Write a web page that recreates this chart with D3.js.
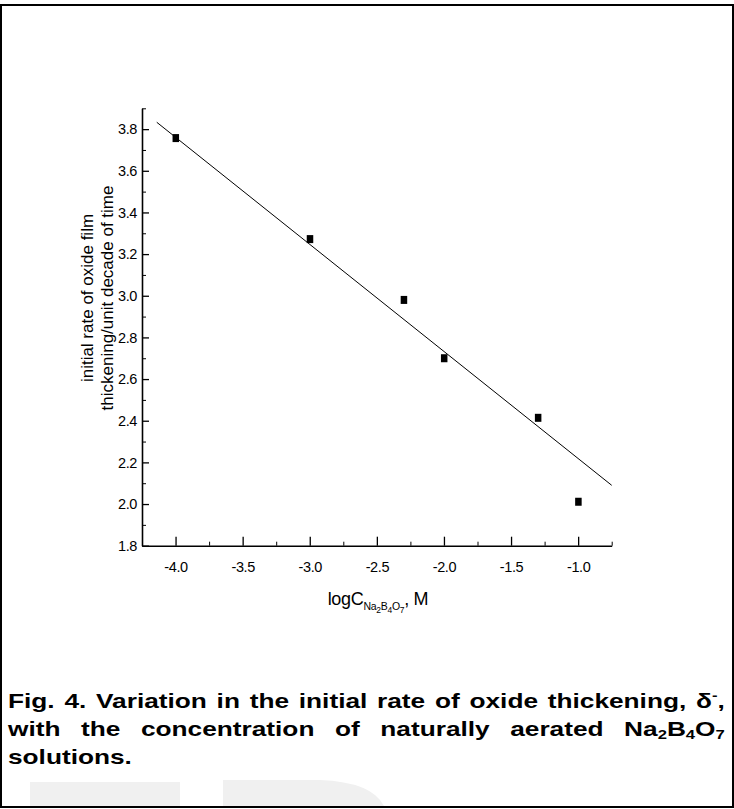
<!DOCTYPE html>
<html><head><meta charset="utf-8">
<script src="https://cdn.jsdelivr.net/npm/d3@7"></script>
<style>
html,body{margin:0;padding:0;background:#fff;}
#wrap{position:relative;width:734px;height:809px;overflow:hidden;}
svg{position:absolute;left:0;top:0;}
#cap{position:absolute;left:8px;top:687.7px;width:560px;transform:scaleX(1.28);transform-origin:0 0;font-family:"Liberation Sans",Arial,sans-serif;font-weight:bold;font-size:20.5px;line-height:25px;color:#000;}
#cap div{white-space:nowrap;}
#cap .j{text-align:justify;text-align-last:justify;white-space:normal;}
#cap sub{font-size:13px;vertical-align:baseline;position:relative;top:3px;}
#cap sup{font-size:13px;vertical-align:baseline;position:relative;top:-8px;}
</style></head>
<body><div id="wrap"><svg id="chart" width="734" height="809"></svg>
<div id="cap">
<div class="j">Fig. 4. Variation in the initial rate of oxide thickening, δ<sup>-</sup>,</div>
<div class="j">with the concentration of naturally aerated Na<sub>2</sub>B<sub>4</sub>O<sub>7</sub></div>
<div>solutions.</div>
</div></div>
<script>
// Data
const xValues = [-4.0, -3.0, -2.3, -2.0, -1.3, -1.0];
const yValues = [3.757, 3.272, 2.98, 2.70, 2.414, 2.011];
const fitX = [-4.14, -0.75];
const fitY = [3.833, 2.09];
const xTicks = [-4.0, -3.5, -3.0, -2.5, -2.0, -1.5, -1.0];
const xMinor = [-3.75, -3.25, -2.75, -2.25, -1.75, -1.25, -0.75];
const yTicks = [1.8, 2.0, 2.2, 2.4, 2.6, 2.8, 3.0, 3.2, 3.4, 3.6, 3.8];
const yMinor = [1.9, 2.1, 2.3, 2.5, 2.7, 2.9, 3.1, 3.3, 3.5, 3.7, 3.9];
const xDomain = [-4.25, -0.75];
const yDomain = [1.8, 3.9];

const svg = d3.select("#chart");
const font = '"Liberation Sans", Arial, sans-serif';
const fmt = d => d3.format(".1f")(d).replace("\u2212", "-");

// frame
svg.append("rect").attr("x",1).attr("y",5).attr("width",732).attr("height",802)
  .attr("fill","none").attr("stroke","#000").attr("stroke-width",2);

// faint watermark shapes
svg.append("rect").attr("x",30).attr("y",782).attr("width",150).attr("height",24).attr("fill","#f0f0f0");
svg.append("path").attr("d","M223,806 L223,780 L320,780 Q372,782 384,806 Z").attr("fill","#f0f0f0");

const L = 142, R = 611.7, T = 108.3, B = 545.7;
const x = d3.scaleLinear().domain(xDomain).range([L, R]);
const y = d3.scaleLinear().domain(yDomain).range([B, T]);

// minor ticks
const gx = svg.append("g").attr("transform",`translate(0,${B})`);
gx.call(d3.axisBottom(x).tickValues(xMinor).tickSize(-4).tickFormat(""))
  .call(g=>g.select(".domain").remove());
const gy = svg.append("g").attr("transform",`translate(${L},0)`);
gy.call(d3.axisLeft(y).tickValues(yMinor).tickSize(-4).tickFormat(""))
  .call(g=>g.select(".domain").remove());

// major axes
const ax = svg.append("g").attr("transform",`translate(0,${B})`)
  .call(d3.axisBottom(x).tickValues(xTicks).tickSize(-9).tickSizeOuter(0).tickPadding(16).tickFormat(fmt));
ax.selectAll("text").attr("font-family",font).attr("font-size",14.5).attr("letter-spacing","-0.4px").attr("fill","#000").attr("dy","0.71em");
ax.select(".domain").attr("stroke-width",1.6);
ax.selectAll(".tick line").attr("stroke-width",1.3);

const ay = svg.append("g").attr("transform",`translate(${L},0)`)
  .call(d3.axisLeft(y).tickValues(yTicks).tickSize(-7).tickSizeOuter(0).tickPadding(5).tickFormat(fmt));
ay.selectAll("text").attr("font-family",font).attr("font-size",14.5).attr("letter-spacing","-0.4px").attr("fill","#000");
ay.select(".domain").attr("stroke-width",1.6);
ay.selectAll(".tick line").attr("stroke-width",1.3);
svg.selectAll(".tick line").attr("stroke","#000");
svg.selectAll(".domain").attr("stroke","#000");

// fit line
svg.append("path").datum(fitX.map((d,i)=>[d,fitY[i]]))
  .attr("d", d3.line().x(d=>x(d[0])).y(d=>y(d[1])))
  .attr("fill","none").attr("stroke","#000").attr("stroke-width",1);

// points
svg.append("g").selectAll("rect").data(xValues.map((d,i)=>[d,yValues[i]])).join("rect")
  .attr("x",d=>x(d[0])-3).attr("y",d=>y(d[1])-4).attr("width",6.5).attr("height",8).attr("fill","#000");

// y title
const yt = svg.append("text").attr("font-family",font).attr("font-size",17).attr("fill","#000")
  .attr("text-anchor","middle").attr("transform","translate(93,298) rotate(-90)");
yt.append("tspan").attr("x",0).attr("y",0).text("initial rate of oxide film");
yt.append("tspan").attr("x",0).attr("y",20).text("thickening/unit decade of time");

// x title
const xt = svg.append("text").attr("font-family",font).attr("font-size",18).attr("fill","#000")
  .attr("text-anchor","middle").attr("x",378).attr("y",605).attr("letter-spacing","-0.3px");
xt.append("tspan").text("logC");
xt.append("tspan").attr("font-size",10.5).attr("dy",5).text("Na");
xt.append("tspan").attr("font-size",8.5).attr("dy",3).text("2");
xt.append("tspan").attr("font-size",10.5).attr("dy",-3).text("B");
xt.append("tspan").attr("font-size",8.5).attr("dy",3).text("4");
xt.append("tspan").attr("font-size",10.5).attr("dy",-3).text("O");
xt.append("tspan").attr("font-size",8.5).attr("dy",3).text("7");
xt.append("tspan").attr("dy",-8).text(", M");
</script></body></html>
